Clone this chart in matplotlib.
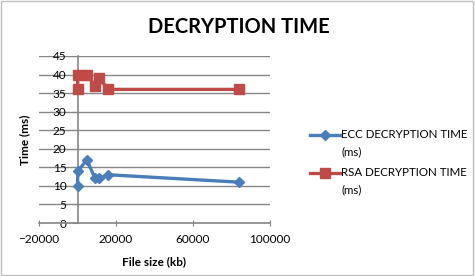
import matplotlib.pyplot as plt
from matplotlib.lines import Line2D
from matplotlib.patches import Rectangle

# ---- data ----
file_size = [0, 200, 4800, 9200, 11300, 16000, 84000]
ecc_time = [10, 14, 17, 12, 12, 13, 11]
rsa_time = [36, 40, 40, 37, 39, 36, 36]

series_names = ["ECC DECRYPTION TIME", "RSA DECRYPTION TIME"]
x_ticks = [-20000, 20000, 60000, 100000]
y_ticks = list(range(0, 50, 5))

ECC_COLOR = "#4A7EBB"
RSA_COLOR = "#BE4B48"
AXIS_GRAY = "#868686"

plt.rcParams["font.family"] = ["Lato", "DejaVu Sans"]

fig = plt.figure(figsize=(4.75, 2.76), dpi=100)
W, H = 475, 276
ax = fig.add_axes([39 / W, 1 - 223 / H, 231 / W, 167 / H])

rsa_line, = ax.plot(file_size, rsa_time, color=RSA_COLOR, lw=2.4, marker="s",
                    ms=7.5, zorder=3)
ecc_line, = ax.plot(file_size, ecc_time, color=ECC_COLOR, lw=2.4, marker="D",
                    ms=5, zorder=3)

ax.set_xlim(-20000, 100000)
ax.set_ylim(0, 45)
ax.set_xticks(x_ticks)
ax.set_yticks(y_ticks)

# y axis crosses at x = 0, like Excel
ax.spines["left"].set_position(("data", 0))
ax.spines["right"].set_visible(False)
ax.spines["top"].set_visible(False)
for s in ("left", "bottom"):
    ax.spines[s].set_color(AXIS_GRAY)
    ax.spines[s].set_linewidth(1.2)

ax.yaxis.grid(True, color=AXIS_GRAY, lw=1.0)
ax.set_axisbelow(True)
ax.tick_params(axis="y", length=4, color=AXIS_GRAY, labelsize=8.5, pad=4)
ax.tick_params(axis="x", length=4, direction="inout", color=AXIS_GRAY,
               labelsize=8.5, pad=6)

ax.set_xlabel("File size (kb)", fontsize=8.5, fontweight="bold", labelpad=8)
ax.set_ylabel("Time (ms)", fontsize=8.5, fontweight="bold")
ax.yaxis.set_label_coords(-9 / 231, 0.5)

fig.text(239 / W, 1 - 27 / H, "DECRYPTION TIME", ha="center", va="center",
         fontsize=14.5, fontweight="bold")

# legend, drawn by hand so the handle sits on the first text line
for line, name, y0 in [(ecc_line, series_names[0], 135),
                       (rsa_line, series_names[1], 173)]:
    fig.add_artist(Line2D([310 / W, 340 / W], [1 - y0 / H] * 2,
                          transform=fig.transFigure, color=line.get_color(),
                          lw=2.4))
    fig.add_artist(Line2D([325 / W], [1 - y0 / H], transform=fig.transFigure,
                          color=line.get_color(), marker=line.get_marker(),
                          ms=line.get_markersize()))
    fig.text(341 / W, 1 - y0 / H, name, ha="left", va="center", fontsize=8.3)
    fig.text(341 / W, 1 - (y0 + 17) / H, "(ms)", ha="left", va="center",
             fontsize=8.3)

# chart-area border
fig.patches.append(Rectangle((0.002, 0.003), 0.994, 0.992, transform=fig.transFigure,
                             fill=False, edgecolor="#BFBFBF", lw=1))

fig.savefig("out.png", dpi=100)
